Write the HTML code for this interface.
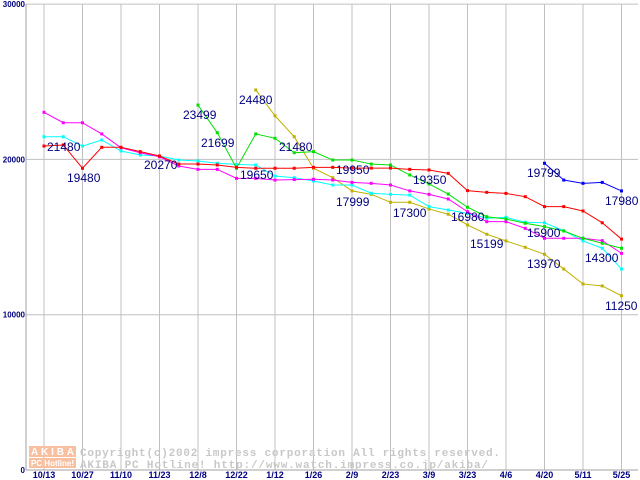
<!DOCTYPE html>
<html><head><meta charset="utf-8"><style>
body{margin:0;background:#fff;}
svg{display:block;font-family:"Liberation Sans",sans-serif;}
</style></head><body>
<svg id="c" width="640" height="480"></svg>
<script>
const categories=["10/13","10/27","11/10","11/23","12/8","12/22","1/12","1/26","2/9","2/23","3/9","3/23","4/6","4/20","5/11","5/25"];
const yTicks=[0,10000,20000,30000];
const red=[20860,20930,19430,20780,20780,20500,20220,19700,19700,19640,19490,19430,19430,19430,19490,19490,19440,19440,19440,19360,19320,19100,17990,17880,17810,17600,16960,16960,16680,15920,14870];
const magenta=[23030,22360,22360,21640,20750,20430,20170,19575,19360,19360,18780,18780,18670,18700,18720,18670,18520,18460,18350,17970,17750,17450,16630,15990,15990,15560,14920,14920,14920,14770,13950];
const cyan=[21460,21460,20860,21250,20540,20280,20220,19960,19900,19750,19680,19640,18930,18820,18610,18350,18350,17820,17750,17700,16960,16740,16530,16210,16270,15950,15920,15410,14750,14280,12940];
const green=[23500,21720,19430,21640,21360,20430,20500,19960,19960,19700,19640,19000,18420,17770,16920,16310,16160,15890,15670,15390,14920,14600,14280];
const greenStart=8;
const olive=[24470,22810,21460,19430,18820,17970,17750,17240,17240,16810,16470,15780,15180,14750,14340,13890,12940,11980,11850,11220];
const oliveStart=11;
const blue=[19750,18670,18460,18520,17970];
const blueStart=26;
const labels=[["21480",47,151],["19480",67,182],["20270",144,169],["23499",183,119],["21699",201,147],["24480",239,104],["21480",279,151],["19650",240,179],["19950",336,174],["19350",413,184],["17999",336,206],["17300",393,217],["16980",451,221],["15199",470,248],["15900",527,237],["13970",527,268],["14300",585,262],["19799",527,177],["17980",605,205],["11250",605,310]];

const NS="http://www.w3.org/2000/svg";
const svg=document.getElementById('c');
const x=i=>44+i*19.25;
const y=v=>470-v*0.01553;
function mk(t,a,p){const e=document.createElementNS(NS,t);for(const k in a)e.setAttribute(k,a[k]);(p||svg).appendChild(e);return e;}
categories.forEach((c,i)=>{
  const l=mk('line',{x1:x(i*2),x2:x(i*2),y1:4,y2:470,stroke:'#c0c0c0'});
  
  
  const t=mk('text',{x:x(i*2),y:478,'text-anchor':'middle','font-size':9,'font-weight':'bold',fill:'#000080'});
  t.textContent=c;
  
  
});
yTicks.forEach(v=>{
  const l=mk('line',{x1:26,x2:638,y1:y(v),y2:y(v),stroke:'#c0c0c0'});
  
  
  const t=mk('text',{x:25,y:y(v)+3,'text-anchor':'end','font-size':8,'font-weight':'bold',fill:'#000080'});
  t.textContent=v;
  
  
});
const ax=mk('line',{x1:26,x2:26,y1:4,y2:470,stroke:'#a0a0a0'});


const bx=mk('line',{x1:26,x2:638,y1:470,y2:470,stroke:'#a0a0a0'});


const wm=mk('g',{});


mk('rect',{x:29,y:446,width:47,height:11,fill:'#f8c0a0'},wm);
mk('rect',{x:29,y:458,width:47,height:10,fill:'#f8c0a0'},wm);
const w1=mk('text',{x:31,y:455,'font-size':10,fill:'#fff','font-weight':'bold',textLength:43},wm);w1.textContent='AKIBA';
const w2=mk('text',{x:31,y:466,'font-size':8,fill:'#fff','font-weight':'bold',textLength:43},wm);w2.textContent='PC Hotline!';
const w3=mk('text',{x:80,y:456,'font-size':11,fill:'#c8c8c8','font-family':'Liberation Mono, monospace','font-weight':'bold',textLength:420},wm);w3.textContent='Copyright(c)2002 impress corporation All rights reserved.';
const w4=mk('text',{x:80,y:468,'font-size':11,fill:'#c8c8c8','font-family':'Liberation Mono, monospace','font-weight':'bold',textLength:408},wm);w4.textContent='AKIBA PC Hotline!  http://www.watch.impress.co.jp/akiba/';
function series(data,start,color,name){
  const g=mk('g',{});
  
  
  mk('polyline',{points:data.map((v,i)=>x(i+start)+','+y(v)).join(' '),fill:'none',stroke:color,'stroke-width':1},g);
  data.forEach((v,i)=>{
    const r=mk('rect',{x:x(i+start)-1.5,y:y(v)-1.5,width:3,height:3,fill:color},g);
    
    
  });
}
series(olive,oliveStart,'#c0b000','series-olive');
series(cyan,0,'#00ffff','series-cyan');
series(magenta,0,'#ff00ff','series-magenta');
series(green,greenStart,'#00e000','series-green');
series(red,0,'#ff0000','series-red');
series(blue,blueStart,'#0000ff','series-blue');
labels.forEach(l=>{
  const t=mk('text',{x:l[1],y:l[2],'font-size':12,fill:'#000080'});
  t.textContent=l[0];
  
  
});
</script>
</body></html>
